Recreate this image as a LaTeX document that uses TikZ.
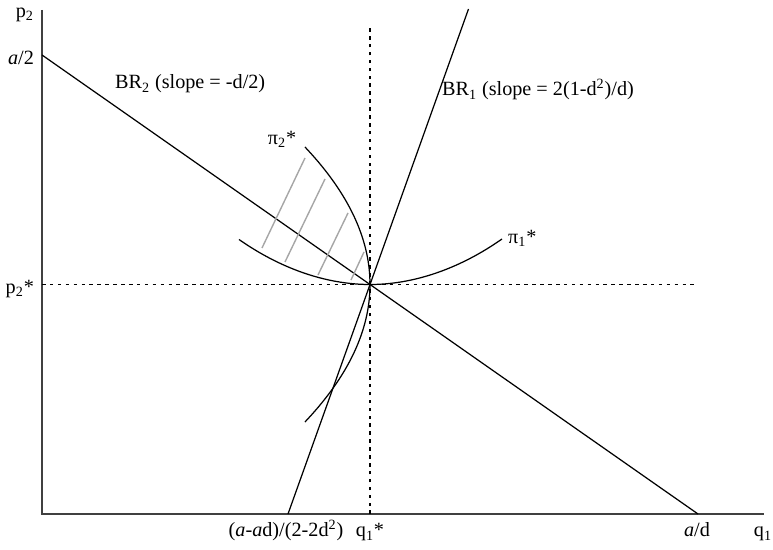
\documentclass[tikz,border=0pt]{standalone}
\usepackage{fontspec}
\setmainfont{Liberation Serif}

\begin{document}
\begin{tikzpicture}[every node/.style={font=\fontsize{11.5}{13}\selectfont, inner sep=1pt}]
	\useasboundingbox (-0.84,-0.72) rectangle (14.62,10.28);
	\coordinate (O) at (0,0);
	\coordinate (ytop) at (0,10.08);
	\coordinate (xend) at (14.44,0);
	\coordinate (half) at (0,9.18);
	\coordinate (aoverd) at (13.12,0);
	\coordinate (E) at (6.56,4.59);
	\coordinate (brlow) at (4.92,0);
	\coordinate (brtop) at (8.53,10.1);
	\draw[line width=0.9pt, black!75] (ytop) -- (O) -- (xend);
	\draw[dash pattern=on 2pt off 2.5pt, line width=0.6pt] (E |- O) -- (6.56,9.8);
	\draw[dash pattern=on 2pt off 2.5pt, line width=0.6pt] (O |- E) -- (13.1,4.59);
	\draw[line width=0.7pt] (half) -- (aoverd);
	\draw[line width=0.7pt] (brlow) -- (brtop);
	\draw[line width=0.7pt] (3.94,5.49) parabola bend (E) (9.2,5.5);
	\draw[line width=0.7pt] plot[domain=-2.75:2.75, smooth, samples=40] ({6.56-0.172*\x*\x},{4.59+\x});
	\foreach \xa/\ya/\xb/\yb in {4.40/5.32/5.26/7.12, 4.86/5.04/5.66/6.70, 5.52/4.78/6.12/6.02, 6.18/4.68/6.44/5.24}
		\draw[black!35, line width=0.8pt] (\xa,\ya) -- (\xb,\yb);
	\node[anchor=east] (p2) at (-0.12,9.98) {p\textsubscript{2}};
	\node[anchor=east] (a2) at (-0.12,9.12) {\textit{a}/2};
	\node[anchor=east] (p2star) at (-0.12,4.5) {p\textsubscript{2}*};
	\node[anchor=base west] (br2) at (1.42,8.5) {BR\textsubscript{2} (slope = -d/2)};
	\node[anchor=base west] (br1) at (7.96,8.36) {BR\textsubscript{1} (slope = 2(1-d\textsuperscript{2})/d)};
	\node (pi2) at (4.8,7.5) {π\textsubscript{2}*};
	\node[anchor=west] (pi1) at (9.28,5.52) {π\textsubscript{1}*};
	\node[anchor=base] (qlow) at (4.88,-0.46) {(\textit{a}-\textit{a}d)/(2-2d\textsuperscript{2})};
	\node[anchor=base] (q1star) at (6.56,-0.46) {q\textsubscript{1}*};
	\node[anchor=base] (ad) at (13.1,-0.46) {\textit{a}/d};
	\node[anchor=base] (q1) at (14.42,-0.46) {q\textsubscript{1}};
\end{tikzpicture}
\end{document}
